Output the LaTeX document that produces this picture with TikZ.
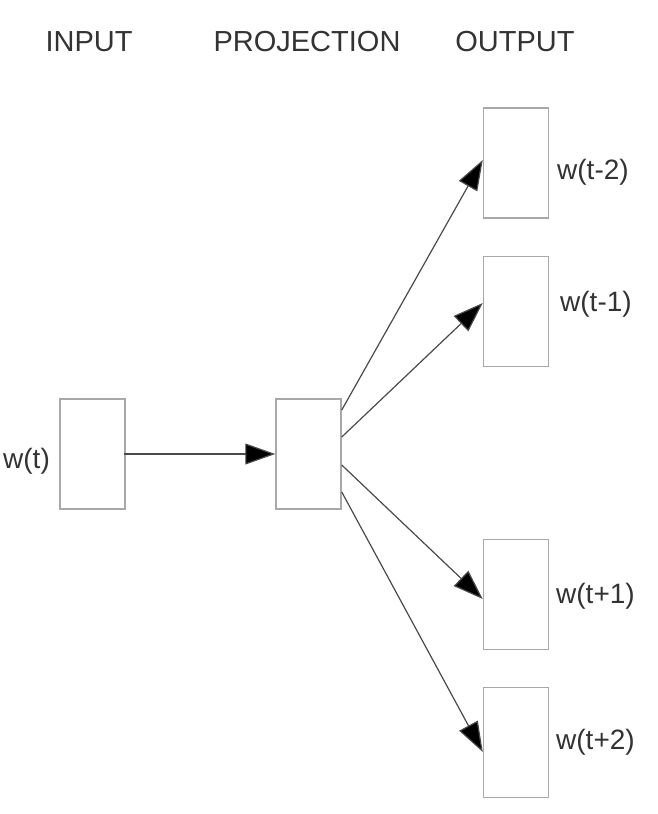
\documentclass[tikz,border=0pt]{standalone}
\usepackage{fontspec}
\setmainfont{Liberation Sans}
\usetikzlibrary{arrows.meta}
\definecolor{boxgray}{HTML}{A8A8A8}
\definecolor{linegray}{HTML}{4A4A4A}
\definecolor{txt}{HTML}{333333}
\begin{document}
\begin{tikzpicture}[x=1pt,y=-1pt,
  layer/.style={draw=boxgray,line width=1.5pt,fill=white,minimum width=65pt,minimum height=110pt,inner sep=0pt},
  conn/.style={draw=linegray,line width=1.2pt,-{Triangle[length=30pt,width=21pt,fill=black]}},
  head/.style={text=txt,font=\fontsize{29}{34}\selectfont,anchor=base,inner sep=0pt},
  lab/.style={text=txt,font=\fontsize{28}{33}\selectfont,anchor=base west,inner sep=0pt}]
\useasboundingbox (0,0) rectangle (658,814);
% headers
\node[head] (hin) at (89,51) {INPUT};
\node[head] (hproj) at (307,51) {PROJECTION};
\node[head] (hout) at (515,51) {OUTPUT};
% boxes
\node[layer] (in) at (92.5,454) {};
\node[layer] (proj) at (308.5,454) {};
\node[layer] (o1) at (516,163) {};
\node[layer] (o2) at (516,311.5) {};
\node[layer] (o3) at (516,594.5) {};
\node[layer] (o4) at (516,742.5) {};
% labels
\node[lab] (lin) at (3,468.5) {w(t)};
\node[lab] (l1) at (557,179) {w(t-2)};
\node[lab] (l2) at (560,311) {w(t-1)};
\node[lab] (l3) at (556,603) {w(t+1)};
\node[lab] (l4) at (556,749) {w(t+2)};
% connectors
\draw[conn] ([xshift=-2pt]in.east) -- (proj.west);
\draw[conn] ([yshift=44pt]proj.east) -- ([yshift=3pt]o1.west);
\draw[conn] ([yshift=17pt]proj.east) -- ([yshift=8.5pt]o2.west);
\draw[conn] ([yshift=-11pt]proj.east) -- ([yshift=-4.5pt]o3.west);
\draw[conn] ([yshift=-38pt]proj.east) -- ([yshift=-9.5pt]o4.west);
\end{tikzpicture}
\end{document}
